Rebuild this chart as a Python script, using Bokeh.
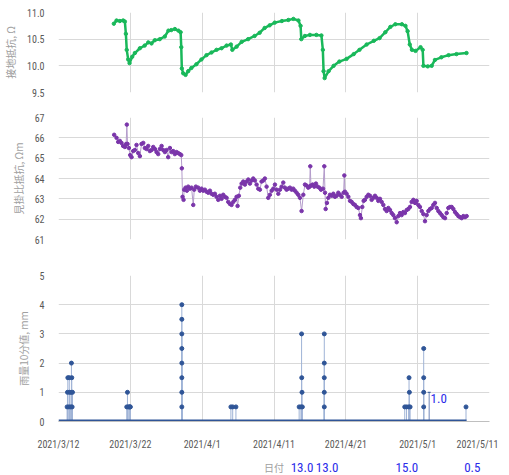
from bokeh.plotting import figure
from bokeh.layouts import column
from bokeh.models import Range1d, FixedTicker, Label, ColumnDataSource, NumeralTickFormatter
from bokeh.core.properties import value
from bokeh.embed import file_html
from bokeh.resources import INLINE

# x values: days since 2021/3/12
x_ticks = [0, 10, 20, 30, 40, 50, 60]
x_tick_labels = ["2021/3/12", "2021/3/22", "2021/4/1", "2021/4/11", "2021/4/21", "2021/5/1", "2021/5/11"]

ground_day = [7.7, 8.08, 8.54, 9.0, 9.24, 9.38, 9.5, 9.7, 9.89, 10.26, 10.63, 11.33, 12.0, 12.5, 12.95,
              13.4, 14.1, 14.8, 15.3, 15.7, 16.2, 16.7, 17.0, 17.09, 17.17, 17.36, 17.69, 18.06, 18.5,
              19.2, 19.9, 20.6, 21.3, 22.0, 22.7, 23.4, 24.0, 24.2, 24.8, 25.5, 26.4, 27.3, 28.0,
              28.7, 29.4, 30.1, 31.1, 32.0, 32.7, 33.4, 33.7, 33.8, 34.3, 35.0, 35.9, 36.6, 36.8,
              36.9, 37.05, 37.6, 38.3, 39.1, 40.1, 41.1, 41.9, 42.9, 43.9, 44.7, 45.5, 46.2, 46.9,
              47.8, 48.3, 48.6, 48.9, 49.2, 49.7, 50.4, 50.7, 50.8, 51.4, 51.95, 52.4, 53.3, 54.3,
              55.4, 56.8]
ground_ohm = [10.79, 10.85, 10.84, 10.85, 10.83, 10.6, 10.3, 10.12, 10.05, 10.17, 10.24, 10.33, 10.38,
              10.44, 10.42, 10.48, 10.5, 10.55, 10.66, 10.67, 10.69, 10.66, 10.63, 10.35, 9.95, 9.86,
              9.83, 9.9, 9.96, 10.03, 10.12, 10.2, 10.25, 10.3, 10.33, 10.38, 10.4, 10.3, 10.36, 10.45,
              10.5, 10.56, 10.62, 10.71, 10.76, 10.81, 10.84, 10.86, 10.88, 10.85, 10.75, 10.5, 10.56,
              10.58, 10.58, 10.57, 10.3, 9.9, 9.77, 9.9, 10.0, 10.08, 10.13, 10.22, 10.3, 10.4, 10.47,
              10.52, 10.63, 10.73, 10.78, 10.78, 10.75, 10.65, 10.4, 10.3, 10.28, 10.35, 10.3, 10.0,
              9.99, 10.0, 10.11, 10.16, 10.2, 10.22, 10.24]

resist_day = [7.75, 8.08, 8.31, 8.54, 8.77, 9.0, 9.24, 9.42, 9.51, 9.61, 9.8, 9.98, 10.17, 10.4, 10.63,
              10.86, 11.1, 11.33, 11.56, 11.8, 12.02, 12.26, 12.49, 12.72, 12.95, 13.19, 13.42, 13.65,
              13.88, 14.11, 14.35, 14.58, 14.81, 15.04, 15.27, 15.51, 15.74, 15.97, 16.2, 16.43, 16.67,
              16.9, 17.09, 17.17, 17.27, 17.41, 17.5, 17.69, 17.87, 18.06, 18.29, 18.52, 18.76, 18.9,
              19.12, 19.45, 19.68, 19.92, 20.15, 20.38, 20.61, 20.85, 21.08, 21.31, 21.54, 21.77, 22.0,
              22.24, 22.47, 22.7, 22.93, 23.16, 23.4, 23.63, 23.86, 24.09, 24.33, 24.56, 24.79, 24.93,
              25.11, 25.3, 25.49, 25.72, 25.95, 26.18, 26.42, 26.65, 26.88, 27.11, 27.34, 27.58, 27.81,
              28.04, 28.27, 28.5, 28.73, 28.97, 29.2, 29.43, 29.67, 29.9, 30.13, 30.36, 30.6, 30.83,
              31.06, 31.29, 31.52, 31.75, 31.99, 32.22, 32.45, 32.68, 32.91, 33.15, 33.38, 33.61, 33.84,
              34.08, 34.31, 34.54, 34.77, 34.96, 35.05, 35.14, 35.38, 35.61, 35.84, 36.07, 36.31, 36.54,
              36.82, 37.0, 37.1, 37.19, 37.37, 37.56, 37.79, 38.02, 38.26, 38.49, 38.72, 38.95, 39.18,
              39.42, 39.69, 39.79, 39.88, 40.11, 40.35, 40.58, 40.81, 41.04, 41.27, 41.5, 41.74, 41.97,
              42.1, 42.29, 42.48, 42.66, 42.9, 43.13, 43.36, 43.59, 43.83, 44.06, 44.29, 44.52, 44.75,
              44.99, 45.22, 45.45, 45.68, 45.92, 46.15, 46.38, 46.61, 46.84, 47.08, 47.31, 47.54, 47.77,
              48.0, 48.23, 48.47, 48.7, 48.93, 49.16, 49.4, 49.63, 49.86, 50.09, 50.32, 50.56, 50.79,
              51.02, 51.25, 51.49, 51.72, 51.95, 52.18, 52.41, 52.65, 52.88, 53.11, 53.34, 53.57, 53.81,
              54.04, 54.27, 54.5, 54.74, 54.97, 55.2, 55.43, 55.66, 55.9, 56.13, 56.36, 56.59, 56.82]
resist_ohmm = [66.15, 66.0, 65.8, 65.85, 65.75, 65.6, 65.55, 65.7, 66.65, 65.7, 65.5, 65.15, 65.05, 65.35,
               65.4, 65.65, 65.25, 65.1, 65.7, 65.75, 65.5, 65.45, 65.6, 65.35, 65.4, 65.55, 65.45, 65.3,
               65.2, 65.45, 65.6, 65.4, 65.3, 65.4, 65.05, 65.5, 65.3, 65.35, 65.2, 65.3, 65.25, 65.2,
               65.15, 64.5, 63.1, 62.95, 63.45, 63.55, 63.4, 63.6, 63.5, 63.55, 62.7, 63.45, 63.6, 63.55,
               63.4, 63.5, 63.4, 63.45, 63.35, 63.3, 63.4, 63.25, 63.2, 63.25, 63.1, 62.95, 63.15, 63.0,
               63.2, 63.1, 63.05, 62.85, 62.75, 62.7, 62.85, 62.95, 63.1, 62.65, 63.15, 63.55, 63.75,
               63.85, 63.7, 63.85, 63.95, 63.75, 63.9, 64.0, 63.9, 63.7, 63.5, 63.45, 63.85, 63.9, 64.0,
               63.6, 63.05, 63.2, 63.4, 63.5, 63.7, 63.45, 63.25, 63.45, 63.6, 63.8, 63.55, 63.45, 63.5,
               63.55, 63.45, 63.5, 63.4, 63.3, 63.2, 63.05, 62.4, 63.2, 63.7, 63.65, 63.55, 63.6, 64.6,
               63.65, 63.7, 63.6, 63.75, 63.6, 63.55, 63.45, 63.5, 64.6, 63.3, 62.5, 62.8, 63.05, 63.2,
               63.15, 63.25, 63.1, 63.15, 63.3, 63.2, 63.1, 63.3, 64.15, 63.35, 63.25, 63.1, 62.9, 62.85,
               62.75, 62.7, 62.6, 62.55, 62.2, 62.05, 62.6, 62.9, 62.95, 63.1, 63.2, 63.15, 62.95, 63.05,
               63.15, 63.05, 62.9, 63.0, 62.85, 62.7, 62.5, 62.4, 62.55, 62.45, 62.3, 62.2, 62.05, 61.85,
               62.15, 62.3, 62.2, 62.35, 62.3, 62.45, 62.5, 62.6, 62.85, 62.95, 62.8, 62.9, 62.7, 62.6,
               62.4, 62.25, 61.9, 62.2, 62.4, 62.5, 62.55, 62.7, 62.8, 62.55, 62.4, 62.3, 62.2, 62.1,
               62.05, 62.3, 62.55, 62.6, 62.6, 62.5, 62.35, 62.25, 62.15, 62.1, 62.05, 62.15, 62.1, 62.15]

rain_start_day = 0.0
rain_end_day = 56.8
rain_day = [1.2, 1.25, 1.3, 1.45, 1.5, 1.55, 1.7, 1.75, 1.8, 1.85, 1.9, 1.95,
            9.5, 9.6, 9.7, 9.85, 9.95, 10.0,
            17.17, 17.17, 17.17, 17.17, 17.17, 17.17, 17.17, 17.17,
            24.0, 24.25, 24.7,
            33.5, 33.75, 33.84, 33.86, 33.9, 33.95,
            37.0, 37.0, 37.0, 37.0, 37.0,
            48.2, 48.45, 48.75, 48.8, 48.85, 48.95,
            50.84, 50.84, 50.84, 50.84,
            56.73]
rain_mm = [0.5, 1.0, 1.5, 0.5, 1.5, 1.0, 0.5, 1.0, 2.0, 1.5, 0.5, 1.0,
           0.5, 1.0, 0.5, 0.5, 0.5, 0.5,
           0.5, 1.0, 1.5, 2.0, 2.5, 3.0, 3.5, 4.0,
           0.5, 0.5, 0.5,
           0.5, 0.5, 3.0, 1.5, 1.0, 0.5,
           0.5, 1.0, 1.5, 2.0, 3.0,
           0.5, 0.5, 0.5, 1.5, 1.0, 0.5,
           2.5, 1.5, 1.0, 0.5,
           0.5]
rain_note_day = 51.6
rain_note_mm = 1.0
daily_total_day = [33.9, 37.4, 48.5, 57.6]
daily_total_text = ["13.0", "13.0", "15.0", "0.5"]
x_title = "日付"

GREEN = "#19b85a"
PURPLE = "#7a35aa"
BLUE = "#2f5597"
LABEL_BLUE = "#2b2bea"
GRID = "#d9d9d9"
TICK_FONT = "'Liberation Sans Narrow', 'Roboto Condensed', Roboto"
CJK = "Noto Sans CJK JP"

FW = 431
ML, MR = 49, 18


def style(p, yticks, ylabel, fmt):
    p.outline_line_color = None
    p.xaxis.ticker = FixedTicker(ticks=x_ticks)
    p.xgrid.ticker = FixedTicker(ticks=x_ticks)
    p.yaxis.ticker = FixedTicker(ticks=yticks)
    p.ygrid.ticker = FixedTicker(ticks=yticks)
    p.xgrid.grid_line_color = GRID
    p.ygrid.grid_line_color = GRID
    p.yaxis.formatter = NumeralTickFormatter(format=fmt)
    p.yaxis.axis_line_color = None
    p.yaxis.major_tick_line_color = None
    p.yaxis.minor_tick_line_color = None
    p.yaxis.major_label_text_font = TICK_FONT
    p.yaxis.major_label_text_font_size = "10px"
    p.yaxis.major_label_text_color = "#595959"
    p.yaxis.major_label_standoff = 8
    p.yaxis.axis_label = ylabel
    p.yaxis.axis_label_text_font = CJK
    p.yaxis.axis_label_text_font_size = "10px"
    p.yaxis.axis_label_text_font_style = "normal"
    p.yaxis.axis_label_text_color = "#a0a0a0"
    p.yaxis.axis_label_standoff = 6


# top: ground resistance
p1 = figure(frame_width=FW, frame_height=80, x_range=Range1d(0, 60), y_range=Range1d(9.5, 11.0),
            output_backend="svg", toolbar_location=None,
            min_border_left=ML, min_border_right=MR, min_border_top=12, min_border_bottom=12)
style(p1, [9.5, 10.0, 10.5, 11.0], "接地抵抗, Ω", "0.0")
p1.xaxis.visible = False
p1.line(ground_day, ground_ohm, line_color=GREEN, line_width=2.5)
p1.scatter(ground_day, ground_ohm, size=3.4, fill_color=GREEN, line_color=GREEN)

# middle: apparent resistivity
p2 = figure(frame_width=FW, frame_height=122, x_range=p1.x_range, y_range=Range1d(61, 67),
            output_backend="svg", toolbar_location=None,
            min_border_left=ML, min_border_right=MR, min_border_top=13, min_border_bottom=8)
style(p2, [61, 62, 63, 64, 65, 66, 67], "見掛比抵抗, Ωm", "0")
p2.xaxis.visible = False
p2.line(resist_day, resist_ohmm, line_color="#b49ccb", line_width=1)
p2.scatter(resist_day, resist_ohmm, size=3.5, fill_color=PURPLE, line_color=PURPLE)

# bottom: rainfall
p3 = figure(frame_width=FW, frame_height=146, x_range=p1.x_range, y_range=Range1d(0, 5),
            output_backend="svg", toolbar_location=None,
            min_border_left=ML, min_border_right=MR, min_border_top=28, min_border_bottom=28)
style(p3, [0, 1, 2, 3, 4, 5], "雨量10分値, mm", "0")
p3.xaxis.axis_line_color = "#bfbfbf"
p3.xaxis.major_tick_line_color = None
p3.xaxis.minor_tick_line_color = None
p3.xaxis.major_label_overrides = {t: s for t, s in zip(x_ticks, x_tick_labels)}
p3.xaxis.major_label_text_font = TICK_FONT
p3.xaxis.major_label_text_font_size = "10px"
p3.xaxis.major_label_text_color = "#595959"
p3.xaxis.major_label_standoff = 11

src = ColumnDataSource(dict(x=rain_day, y=rain_mm, y0=[0] * len(rain_day)))
p3.segment(x0="x", y0="y0", x1="x", y1="y", source=src, line_color="#9fb3d6", line_width=1)
p3.segment(x0=[rain_note_day], y0=[0], x1=[rain_note_day], y1=[rain_note_mm],
           line_color="#6f86b8", line_width=1)
p3.scatter([rain_note_day], [rain_note_mm], marker="dash", size=3, line_color=BLUE)
p3.scatter(x="x", y="y", source=src, size=4, fill_color=BLUE, line_color=BLUE)
p3.line([rain_start_day, rain_end_day], [0, 0], line_color=BLUE, line_width=4)

p3.add_layout(Label(x=rain_note_day + 0.2, y=rain_note_mm - 0.2, text="1.0",
                    text_font=TICK_FONT, text_font_size="13px", text_color=LABEL_BLUE,
                    text_baseline="middle", text_align="left"))

# strip under the axis: axis title and daily totals
p4 = figure(frame_width=FW, frame_height=22, x_range=p1.x_range, y_range=Range1d(0, 1),
            output_backend="svg", toolbar_location=None,
            min_border_left=ML, min_border_right=MR, min_border_top=0, min_border_bottom=0)
p4.axis.visible = False
p4.grid.visible = False
p4.outline_line_color = None
p4.text(daily_total_day, [0.3] * len(daily_total_day), text=daily_total_text,
        text_font=value(TICK_FONT), text_font_size="13px", text_color=LABEL_BLUE,
        text_baseline="middle", text_align="center")
p4.text([(p1.x_range.start + p1.x_range.end) / 2], [0.3], text=[x_title],
        text_font=value(CJK), text_font_size="10px", text_color="#a0a0a0",
        text_baseline="middle", text_align="center")

layout = column(p1, p2, p3, p4)
open("out.html", "w").write(file_html(layout, INLINE))
